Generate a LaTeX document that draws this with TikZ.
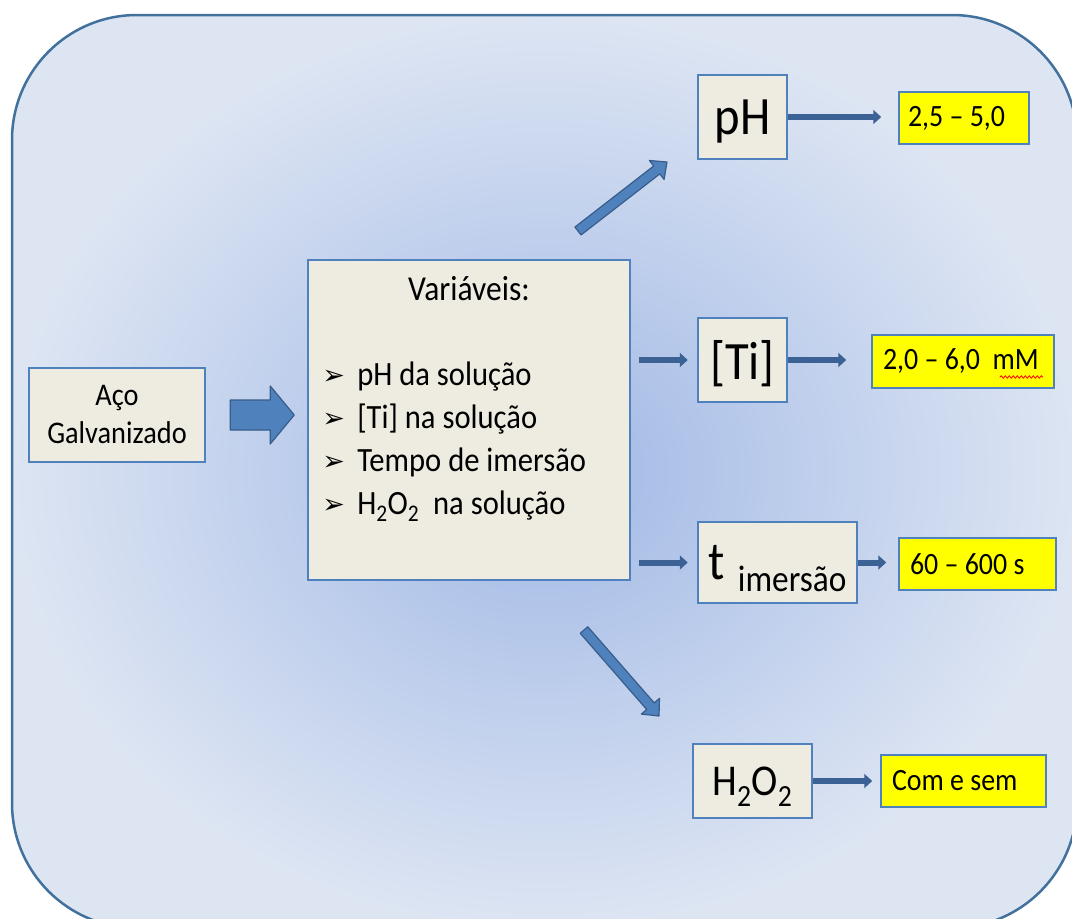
\documentclass[tikz,border=0pt]{standalone}
\usepackage{fontspec}
\setmainfont{Carlito}[FakeStretch=0.9]
\newfontfamily\symfont{DejaVu Sans}
\usetikzlibrary{positioning,calc,arrows.meta,decorations.pathmorphing}

\definecolor{frameline}{HTML}{41719C}
\definecolor{bginner}{HTML}{A0B8E5}
\definecolor{bgouter}{HTML}{DDE5F3}
\definecolor{boxline}{HTML}{4F81BD}
\definecolor{boxfill}{HTML}{EEECE1}
\definecolor{arrowfill}{HTML}{4F81BD}
\definecolor{arrowline}{HTML}{385D8A}
\definecolor{linkblue}{HTML}{3B6195}
\definecolor{valfill}{HTML}{FFFF00}

\newcommand\fsz[1]{\fontsize{#1}{#1}\selectfont}

% block arrow: tail, tip, half shaft, half head, head length
\newcommand\blockarrow[5]{%
  \coordinate (hb) at ($(#2)!#5!(#1)$);
  \draw[bigarrow] ($(#1)!#3!90:(#2)$) -- ($(hb)!#3!90:(#2)$) -- ($(hb)!#4!90:(#2)$)
    -- (#2) -- ($(hb)!#4!-90:(#2)$) -- ($(hb)!#3!-90:(#2)$) -- ($(#1)!#3!-90:(#2)$) -- cycle;}

\begin{document}
\begin{tikzpicture}[x=1pt, y=-1pt, line cap=round]

%---- STYLES ----
\tikzset{
    frame/.style={draw=frameline, line width=2.5pt, inner color=bginner,
        outer color=bgouter, rounded corners=125pt},
    box/.style={draw=boxline, fill=boxfill, line width=2.5pt, inner sep=0pt},
    keybox/.style={box, text depth=0pt, font=\fsz{54}},
    valbox/.style={draw=boxline, fill=valfill, line width=1.5pt, inner ysep=0pt,
        font=\fsz{31}},
    link/.style={draw=linkblue, line width=6pt, line cap=butt,
        -{Triangle[width=14pt,length=8pt]}},
    bigarrow/.style={fill=arrowfill, draw=arrowline, line width=1.2pt, line join=round},
    spell/.style={draw=red, line width=0.8pt, decorate,
        decoration={snake, amplitude=1.2pt, segment length=4pt}},
}

% PAGE
\fill[white] (0,0) rectangle (1072,919);
\useasboundingbox (0,0) rectangle (1072,919);
\shadedraw[frame] (12,15) rectangle (1077,928);

%---- MAIN BOXES ----
\node[box, minimum width=176pt, minimum height=94pt, align=center,
      font=\fontsize{31.5}{38}\selectfont] (aco) at (117,415) {Aço\\Galvanizado};
\node[box, minimum width=322pt, minimum height=320pt] (var) at (469,420) {};
\node[anchor=base, font=\fsz{35}] (vartitle) at ($(var.north)+(0,42)$) {Variáveis:};

% list of variables
\foreach \vtxt [count=\i] in {pH da solução, {[Ti] na solução}, Tempo de imersão,
        {H\textsubscript{2}O\textsubscript{2}\ \ na solução}} {
    \node[anchor=base west, font=\fsz{27}] (bul\i) at ($(var.north west)+(12,83+43*\i)$) {\symfont ➢};
    \node[anchor=base west, font=\fsz{34}] (item\i) at ($(var.north west)+(47,84+43*\i)$) {\vtxt};
}

%---- VARIABLES ----
\node[keybox, minimum width=89pt, minimum height=84pt] (ph) at (742.5,117) {pH};
\node[keybox, minimum width=89pt, minimum height=84pt] (ti) at (742.5,360) {[Ti]};
\node[keybox, minimum width=159pt, minimum height=81pt] (tim) at (777.5,562.5)
    {t\hspace{13pt}\raisebox{-12pt}{\fsz{37}imersão}};
\node[keybox, minimum width=119pt, minimum height=74pt, font=\fsz{44}] (hoo) at (752.5,781)
    {H\textsubscript{2}O\textsubscript{2}};

%---- RANGES ----
\node[valbox, inner xsep=9pt, minimum height=52pt] (r1) at (964,118)
    {\makebox[112pt][l]{2,5 – 5,0}};
\node[valbox, inner xsep=11pt, minimum height=53pt] (r2) at (963,361.5)
    {\makebox[160pt][l]{2,0 – 6,0\ \ mM}};
\node[valbox, inner xsep=11pt, minimum height=52pt] (r3) at (977.5,564)
    {\makebox[135pt][l]{60 – 600 s}};
\node[valbox, inner xsep=11pt, minimum height=52pt] (r4) at (963.5,781)
    {\makebox[143pt][l]{Com e sem}};

% spell-check mark under mM
\coordinate (sp1) at (1000,377);
\coordinate (sp2) at (1043,377);
\draw[spell] (sp1) -- (sp2);

%---- BLOCK ARROWS ----
\coordinate (big1) at ($(aco.east)+(24,0)$);
\coordinate (big2) at ($(aco.east)+(88,0)$);
\blockarrow{big1}{big2}{15pt}{29pt}{24pt}

\coordinate (up1) at (578,231);
\coordinate (up2) at (667,162);
\blockarrow{up1}{up2}{5pt}{12pt}{13pt}

\coordinate (dn1) at (584,630);
\coordinate (dn2) at (659,716);
\blockarrow{dn1}{dn2}{5pt}{12pt}{13pt}

%---- LINKS ----
\draw[link, shorten <=8pt, shorten >=9pt] (var.east |- ti) -- (ti);
\draw[link, shorten <=8pt, shorten >=9pt] (var.east |- tim) -- (tim);
\draw[link, shorten >=17pt] (ph.east) -- (ph.east -| r1.west);
\draw[link, shorten >=25pt] (ti.east) -- (ti.east -| r2.west);
\draw[link, shorten >=12pt] (tim.east) -- (tim.east -| r3.west);
\draw[link, shorten >=8pt] (hoo.east) -- (hoo.east -| r4.west);

\end{tikzpicture}
\end{document}
